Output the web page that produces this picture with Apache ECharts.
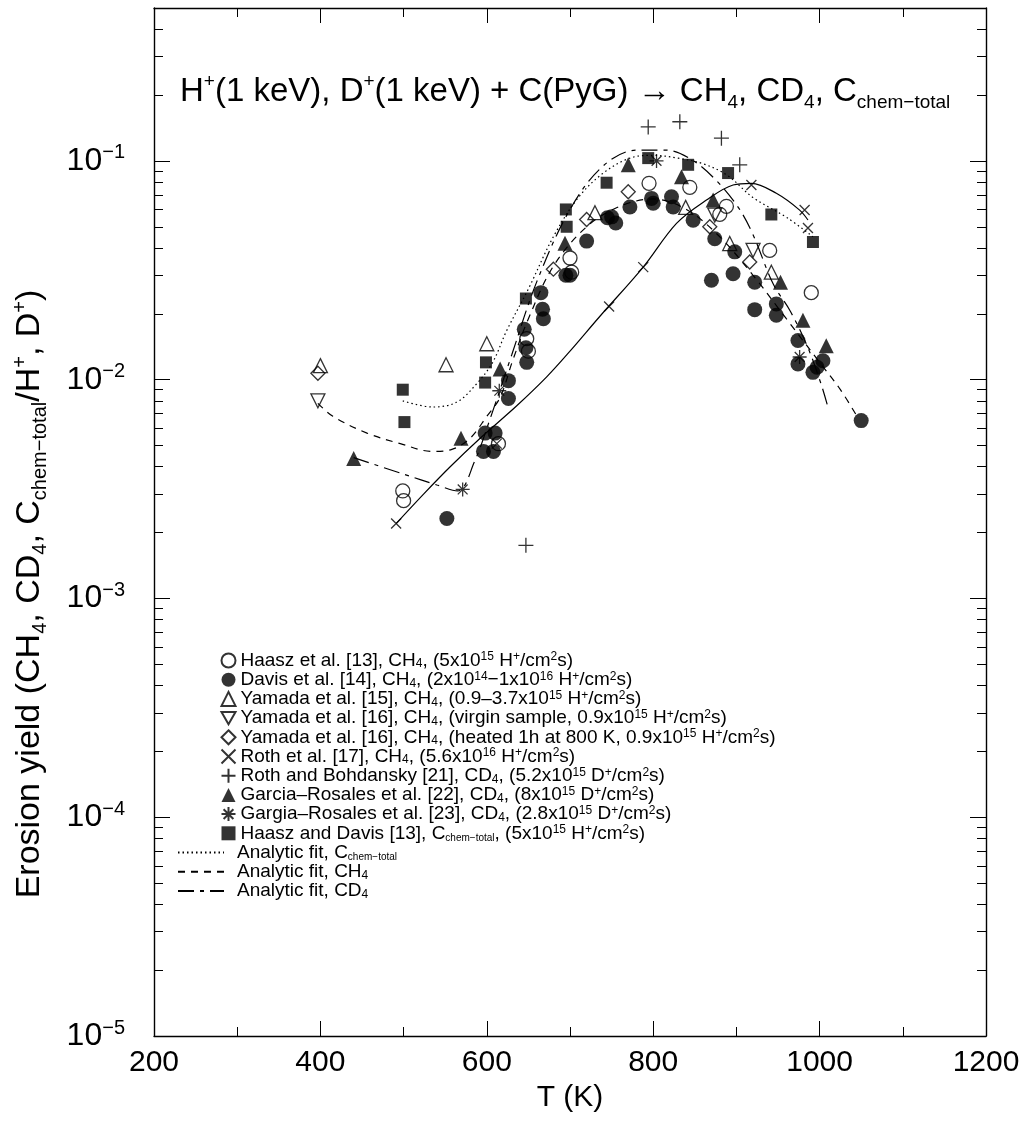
<!DOCTYPE html>
<html><head><meta charset="utf-8">
<script src="https://cdn.jsdelivr.net/npm/echarts@6/dist/echarts.min.js"></script>
<style>html,body{margin:0;padding:0;background:#fff}#c{width:1027px;height:1126px}</style>
</head><body><div id="c"></div>
<script>
// ---------- data (T in K, erosion yield) ----------
const haasz = [[499,0.0031],[500,0.0028],[614,0.0051],[648,0.0154],[650,0.0135],[700,0.036],[702,0.031],[795,0.079],[844,0.0757],[888,0.062],[880,0.057],[940,0.039],[990,0.025]];
const davis = [[552,0.00232],[596,0.0047],[598,0.0057],[608,0.0047],[610,0.0057],[626,0.0099],[626,0.0082],[645,0.017],[647,0.014],[648,0.012],[665,0.025],[667,0.021],[668,0.019],[695,0.03],[700,0.03],[720,0.043],[745,0.055],[750,0.0555],[755,0.052],[772,0.0616],[798,0.0674],[800,0.064],[822,0.0686],[824,0.0616],[848,0.0536],[874,0.0441],[870,0.0285],[896,0.0305],[898,0.0384],[922,0.0279],[922,0.0209],[948,0.0222],[948,0.0197],[974,0.0151],[974,0.0118],[992,0.0108],[997,0.0114],[1004,0.0122],[1050,0.0065]];
const yamada15 = [[400,0.0116],[551,0.0117],[600,0.0146],[730,0.058],[839,0.0613],[892,0.0419],[942,0.031]];
const yamada16v = [[397,0.008],[874,0.0565],[920,0.039]];
const yamada16h = [[397,0.0107],[680,0.032],[720,0.054],[770,0.0723],[868,0.05],[916,0.0345]];
const roth = [[491,0.0022],[612,0.0051],[747,0.0216],[788,0.0327],[918,0.0776],[982,0.0596],[986,0.0494]];
const rothBoh = [[647,0.00175],[794,0.143],[832,0.151],[882,0.127],[904,0.096]];
const garcia = [[440,0.00436],[569,0.0054],[616,0.0112],[694,0.042],[770,0.096],[834,0.0847],[872,0.0662],[953,0.0279],[980,0.0187],[1008,0.0143]];
const gargia = [[571,0.00315],[615,0.0089],[804,0.1],[976,0.0127]];
const haaszDavis = [[499,0.009],[501,0.0064],[598,0.0097],[599,0.012],[647,0.0235],[695,0.06],[696,0.05],[744,0.0795],[794,0.103],[842,0.096],[890,0.088],[942,0.0569],[992,0.0426]];
// analytic fits
const fitTotal = [[499,0.008],[535,0.0075],[564,0.0079],[588,0.0096],[607,0.012],[624,0.0168],[650,0.026],[680,0.045],[710,0.068],[740,0.088],[772,0.103],[800,0.106],[830,0.103],[860,0.097],[889,0.086],[920,0.068],[961,0.055],[992,0.045]];
const fitCH4 = [[397,0.0078],[415,0.0068],[456,0.0057],[496,0.0051],[535,0.0047],[558,0.0048],[580,0.0054],[600,0.0068],[616,0.0083],[631,0.0122],[650,0.019],[680,0.033],[720,0.05],[760,0.062],[800,0.067],[840,0.06],[880,0.045],[920,0.03],[960,0.019],[1000,0.012],[1025,0.009],[1045,0.0068]];
const fitCD4 = [[440,0.0044],[500,0.0037],[540,0.0033],[565,0.0031],[585,0.0042],[605,0.0068],[630,0.013],[660,0.028],[700,0.06],[740,0.095],[780,0.112],[815,0.112],[845,0.102],[875,0.082],[902,0.0615],[920,0.046],[944,0.0275],[965,0.0205],[986,0.014],[1002,0.0095],[1010,0.0075]];
const fitRoth = [[491,0.0022],[524,0.003],[556,0.004],[592,0.0054],[636,0.0076],[672,0.0103],[700,0.0135],[736,0.0195],[788,0.0327],[828,0.0518],[864,0.0662],[896,0.0776],[918,0.079],[948,0.0711],[976,0.0596],[986,0.0537]];
const xTicks = [200,1200,200];
const yRange = [1e-5,0.5];

// ---------- names / rich labels ----------
const names = {
  haasz:'Haasz et al. [13], CH4, (5x1015 H+/cm2s)',
  davis:'Davis et al. [14], CH4, (2x1014-1x1016 H+/cm2s)',
  y15:'Yamada et al. [15], CH4, (0.9-3.7x1015 H+/cm2s)',
  y16v:'Yamada et al. [16], CH4, (virgin sample, 0.9x1015 H+/cm2s)',
  y16h:'Yamada et al. [16], CH4, (heated 1h at 800 K, 0.9x1015 H+/cm2s)',
  roth:'Roth et al. [17], CH4, (5.6x1016 H+/cm2s)',
  rb:'Roth and Bohdansky [21], CD4, (5.2x1015 D+/cm2s)',
  gr22:'Garcia-Rosales et al. [22], CD4, (8x1015 D+/cm2s)',
  gr23:'Gargia-Rosales et al. [23], CD4, (2.8x1015 D+/cm2s)',
  hd:'Haasz and Davis [13], Cchem-total, (5x1015 H+/cm2s)',
  fT:'Analytic fit, Cchem-total',
  fCH:'Analytic fit, CH4',
  fCD:'Analytic fit, CD4',
  fR:'Roth fit'
};
const richNames = {};
richNames[names.haasz]='Haasz et al. [13], CH{b|4}, (5x10{p|15} H{p|+}/cm{p|2}s)';
richNames[names.davis]='Davis et al. [14], CH{b|4}, (2x10{p|14}\u22121x10{p|16} H{p|+}/cm{p|2}s)';
richNames[names.y15]='Yamada et al. [15], CH{b|4}, (0.9\u20133.7x10{p|15} H{p|+}/cm{p|2}s)';
richNames[names.y16v]='Yamada et al. [16], CH{b|4}, (virgin sample, 0.9x10{p|15} H{p|+}/cm{p|2}s)';
richNames[names.y16h]='Yamada et al. [16], CH{b|4}, (heated 1h at 800 K, 0.9x10{p|15} H{p|+}/cm{p|2}s)';
richNames[names.roth]='Roth et al. [17], CH{b|4}, (5.6x10{p|16} H{p|+}/cm{p|2}s)';
richNames[names.rb]='Roth and Bohdansky [21], CD{b|4}, (5.2x10{p|15} D{p|+}/cm{p|2}s)';
richNames[names.gr22]='Garcia\u2013Rosales et al. [22], CD{b|4}, (8x10{p|15} D{p|+}/cm{p|2}s)';
richNames[names.gr23]='Gargia\u2013Rosales et al. [23], CD{b|4}, (2.8x10{p|15} D{p|+}/cm{p|2}s)';
richNames[names.hd]='Haasz and Davis [13], C{bs|chem\u2212total}, (5x10{p|15} H{p|+}/cm{p|2}s)';
richNames[names.fT]='Analytic fit, C{bs|chem\u2212total}';
richNames[names.fCH]='Analytic fit, CH{b|4}';
richNames[names.fCD]='Analytic fit, CD{b|4}';

const FONT = "'Liberation Sans', Arial, Helvetica, sans-serif";
const K = '#000';
const hollow = {color:'rgba(255,255,255,0)', borderColor:K, borderWidth:1.3};
const stroke = {color:'none', borderColor:K, borderWidth:1.3};
const filled = {color:K, borderColor:K, borderWidth:0};

function sc(name, data, symbol, size, style){
  return {type:'scatter', name, data, symbol, symbolSize:size, itemStyle:style, z:3};
}
function ln(name, data, dash, width){
  return {type:'line', name, data, smooth:0.35, symbol:'none', showSymbol:false,
    lineStyle:{color:K, width:width||1.2, type:dash}, itemStyle:{color:K}, z:2};
}

const series = [
  ln(names.fT, fitTotal, [1.5,3]),
  ln(names.fCH, fitCH4, [7,6]),
  ln(names.fCD, fitCD4, [16,6,4,6]),
  ln(names.fR, fitRoth, 'solid'),
  sc(names.haasz, haasz, 'circle', 14, hollow),
  sc(names.davis, davis, 'circle', 15, filled),
  sc(names.y15, yamada15, 'triangle', 14, hollow),
  sc(names.y16v, yamada16v, 'path://M0,0L10,0L5,8.66Z', 14, hollow),
  sc(names.y16h, yamada16h, 'diamond', 14, hollow),
  sc(names.roth, roth, 'path://M0,0L10,10M10,0L0,10', 10, stroke),
  sc(names.rb, rothBoh, 'path://M5,0L5,10M0,5L10,5', 15, stroke),
  sc(names.gr22, garcia, 'triangle', 15, filled),
  sc(names.gr23, gargia, 'path://M5,0L5,10M0,5L10,5M1.5,1.5L8.5,8.5M8.5,1.5L1.5,8.5', 14, stroke),
  sc(names.hd, haaszDavis, 'rect', 12, filled)
];

const legRich = {
  b:{fontSize:12, lineHeight:4, verticalAlign:'bottom', fontFamily:FONT, color:K},
  bs:{fontSize:10, lineHeight:4, verticalAlign:'bottom', fontFamily:FONT, color:K},
  p:{fontSize:12, lineHeight:8, verticalAlign:'top', fontFamily:FONT, color:K}
};
const legText = {fontFamily:FONT, fontSize:19, color:K, lineHeight:19, rich:legRich};

const chart = echarts.init(document.getElementById('c'), null, {renderer:'canvas'});
chart.setOption({
  animation:false,
  backgroundColor:'#fff',
  grid:{left:154, right:41, top:8, bottom:90, show:false},
  title:{
    text:'H{p|+}(1 keV), D{p|+}(1 keV) + C(PyG) \u2192 CH{b|4}, CD{b|4}, C{b|chem\u2212total}',
    left:175, top:67,
    textStyle:{fontFamily:FONT, fontSize:33, fontWeight:'normal', color:K, lineHeight:40,
      rich:{
        p:{fontSize:19, lineHeight:17, verticalAlign:'top', fontFamily:FONT, color:K},
        b:{fontSize:19, lineHeight:14, verticalAlign:'bottom', fontFamily:FONT, color:K}
      }}
  },
  legend:[
    {orient:'vertical', left:214, top:646, itemWidth:14, itemHeight:14, itemGap:0.2,
     data:[names.haasz,names.davis,names.y15,names.y16v,names.y16h,names.roth,names.rb,names.gr22,names.gr23,names.hd],
     formatter:n=>richNames[n], textStyle:legText, selectedMode:false},
    {orient:'vertical', left:172, top:838, itemWidth:46, itemHeight:14, itemGap:0.2,
     itemStyle:{color:'rgba(0,0,0,0)', borderWidth:0, opacity:0},
     data:[names.fT,names.fCH,names.fCD],
     formatter:n=>richNames[n], textStyle:Object.assign({}, legText, {padding:[0,0,0,8]}), selectedMode:false}
  ],
  xAxis:[
    {type:'value', min:xTicks[0], max:xTicks[1], interval:xTicks[2], position:'bottom',
     axisLine:{lineStyle:{color:K, width:1.4}}, axisTick:{inside:true, length:15, lineStyle:{color:K}},
     minorTick:{show:true, splitNumber:2, length:9, lineStyle:{color:K}},
     splitLine:{show:false},
     axisLabel:{fontFamily:FONT, fontSize:30, color:K, margin:12, formatter:v=>String(v)},
     name:'T (K)', nameLocation:'middle', nameGap:47,
     nameTextStyle:{fontFamily:FONT, fontSize:30, color:K}},
    {type:'value', min:xTicks[0], max:xTicks[1], interval:xTicks[2], position:'top',
     axisLine:{lineStyle:{color:K, width:1.4}}, axisTick:{inside:true, length:15, lineStyle:{color:K}},
     minorTick:{show:true, splitNumber:2, length:9, lineStyle:{color:K}},
     splitLine:{show:false}, axisLabel:{show:false}}
  ],
  yAxis:[
    {type:'log', logBase:10, min:yRange[0], max:yRange[1], position:'left',
     axisLine:{lineStyle:{color:K, width:1.4}}, axisTick:{inside:true, length:16, lineStyle:{color:K}},
     minorTick:{show:true, splitNumber:9, length:9, lineStyle:{color:K}},
     splitLine:{show:false},
     axisLabel:{margin:29, color:K, fontFamily:FONT,
       formatter:v=>{const e=Math.log10(v); if(Math.abs(e-Math.round(e))>1e-6) return ''; return '{t|10}{s|\u2212'+Math.abs(Math.round(e))+'}';},
       rich:{t:{fontSize:32, lineHeight:36, fontFamily:FONT, color:K},
             s:{fontSize:20, lineHeight:18, verticalAlign:'top', fontFamily:FONT, color:K}}}},
    {type:'log', logBase:10, min:yRange[0], max:yRange[1], position:'right',
     axisLine:{lineStyle:{color:K, width:1.4}}, axisTick:{inside:true, length:16, lineStyle:{color:K}},
     minorTick:{show:true, splitNumber:9, length:9, lineStyle:{color:K}},
     splitLine:{show:false}, axisLabel:{show:false}}
  ],
  graphic:[{
    type:'text', x:30, y:594, rotation:Math.PI/2,
    style:{text:'Erosion yield (CH{b|4}, CD{b|4}, C{b|chem\u2212total}/H{p|+}, D{p|+})',
      fontFamily:FONT, fontSize:34, fill:K, align:'center', verticalAlign:'middle', lineHeight:40,
      rich:{p:{fontSize:20, lineHeight:17, verticalAlign:'top', fontFamily:FONT, fill:K},
            b:{fontSize:20, lineHeight:14, verticalAlign:'bottom', fontFamily:FONT, fill:K}}}
  }],
  series: series
});
</script></body></html>
